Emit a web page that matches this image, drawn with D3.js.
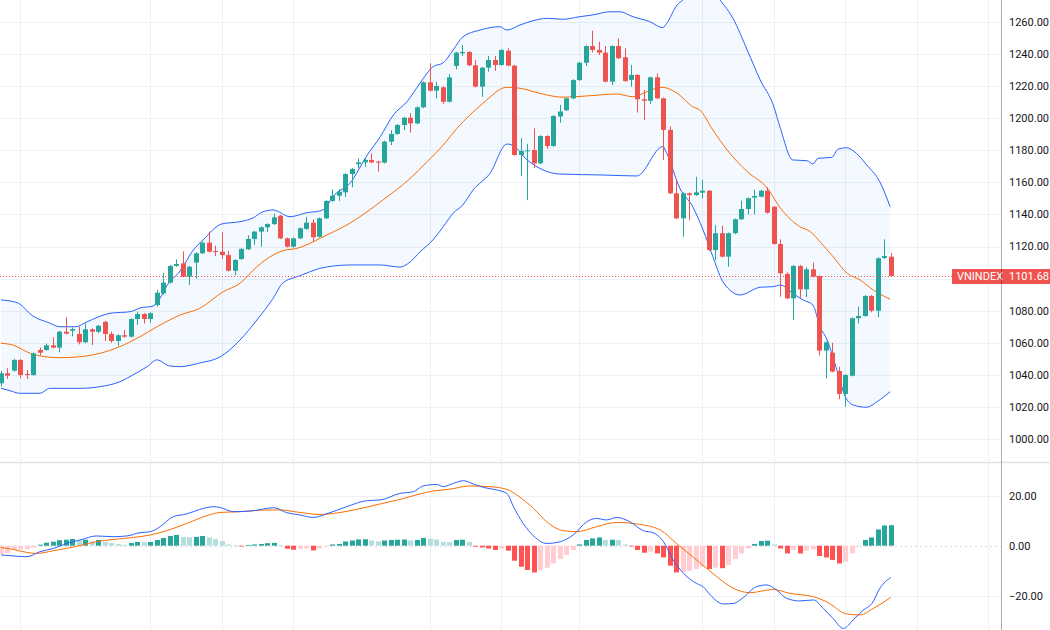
<!DOCTYPE html>
<html>
<head>
<meta charset="utf-8">
<script src="https://cdn.jsdelivr.net/npm/d3@7/dist/d3.min.js"></script>
<style>
html,body{margin:0;padding:0;background:#fff;}
svg{display:block;}
text{font-family:Roboto,"Liberation Sans",Arial,sans-serif;}
</style>
</head>
<body>
<svg id="chart" width="1050" height="630"></svg>
<script>
// ---------------- DATA ----------------
const symbol = "VNINDEX";
const lastPrice = 1101.68;
const open  = [1034.7,1041.0,1042.6,1049.3,1040.5,1039.9,1055.5,1055.5,1058.4,1057.0,
  1066.9,1067.5,1065.5,1060.3,1068.4,1066.9,1073.1,1065.5,1061.1,1064.7,
  1063.8,1074.8,1077.9,1074.8,1083.5,1090.8,1097.5,1107.9,1109.5,1101.2,
  1110.0,1115.8,1122.4,1117.2,1116.8,1114.7,1104.9,1112.2,1118.3,1124.7,
  1129.3,1132.0,1134.0,1139.2,1125.1,1119.9,1125.1,1131.0,1134.9,1126.1,
  1137.6,1148.4,1151.7,1153.8,1165.2,1171.4,1172.5,1174.0,1173.0,1172.3,
  1185.4,1190.2,1195.8,1200.3,1196.8,1206.8,1222.4,1217.2,1219.3,1210.3,
  1232.6,1240.5,1241.3,1233.0,1219.7,1231.5,1236.3,1233.2,1242.1,1232.8,
  1177.1,1179.6,1180.2,1171.9,1188.9,1182.7,1201.1,1205.0,1212.4,1223.8,
  1234.6,1245.0,1242.6,1240.9,1222.8,1245.0,1238.0,1223.9,1227.0,1211.8,
  1210.9,1225.5,1212.4,1192.7,1153.2,1137.6,1153.2,1152.1,1153.6,1154.8,
  1117.8,1128.3,1113.7,1128.3,1137.0,1143.4,1150.5,1151.1,1154.8,1144.8,
  1121.6,1102.9,1087.7,1107.9,1093.3,1105.8,1101.6,1055.1,1053.8,1042.4,
  1028.1,1039.5,1075.3,1076.7,1089.2,1080.0,1112.9,1113.7];
const high  = [1042.5,1044.1,1050.0,1049.8,1043.0,1054.0,1057.0,1059.5,1063.4,1067.5,
  1075.9,1069.5,1070.0,1072.0,1069.0,1071.2,1073.6,1067.0,1065.2,1068.0,
  1075.3,1079.4,1078.4,1079.0,1092.9,1103.5,1108.5,1112.0,1117.0,1108.0,
  1116.3,1123.0,1129.3,1120.5,1128.9,1117.4,1112.1,1119.0,1127.0,1129.8,
  1132.5,1134.5,1140.5,1139.7,1125.6,1125.6,1131.9,1138.6,1137.0,1138.1,
  1148.9,1155.6,1155.8,1165.7,1169.0,1175.0,1175.0,1178.0,1173.5,1185.9,
  1192.6,1196.3,1200.8,1203.1,1207.3,1222.9,1234.3,1222.8,1219.8,1227.6,
  1241.4,1245.7,1241.8,1236.3,1232.0,1238.8,1238.8,1243.1,1243.6,1233.3,
  1187.5,1184.0,1193.7,1189.4,1189.4,1201.9,1208.3,1212.9,1224.3,1235.1,
  1245.5,1254.6,1247.7,1245.0,1245.5,1249.8,1243.6,1233.2,1227.5,1217.6,
  1226.0,1227.9,1212.9,1195.0,1162.0,1153.7,1153.7,1163.5,1161.6,1155.3,
  1133.4,1133.0,1128.8,1137.5,1148.6,1150.6,1155.4,1155.3,1157.0,1145.3,
  1124.5,1104.0,1108.4,1108.4,1107.0,1110.0,1102.1,1060.8,1060.0,1045.0,
  1040.4,1075.8,1082.5,1089.7,1089.7,1113.2,1124.5,1116.0];
const low   = [1033.0,1037.4,1042.0,1037.8,1037.4,1039.5,1052.0,1055.0,1056.5,1054.0,
  1065.2,1064.0,1059.0,1059.8,1058.6,1066.0,1061.0,1060.0,1058.0,1063.2,
  1063.3,1071.1,1072.0,1072.5,1082.5,1090.0,1097.0,1107.4,1100.8,1096.0,
  1100.0,1115.3,1116.3,1114.0,1112.4,1104.4,1102.0,1111.7,1117.8,1121.0,
  1119.9,1129.0,1133.5,1124.6,1119.4,1119.4,1124.6,1130.5,1123.0,1125.6,
  1137.1,1147.9,1148.5,1151.0,1157.0,1168.8,1169.6,1172.0,1166.7,1171.8,
  1183.2,1189.7,1192.6,1191.0,1196.3,1206.3,1216.7,1212.4,1208.9,1209.8,
  1230.5,1238.8,1232.5,1219.2,1213.4,1229.0,1229.5,1232.7,1232.3,1176.6,
  1164.0,1149.0,1169.0,1171.4,1181.0,1182.2,1197.2,1204.5,1211.9,1223.3,
  1232.5,1241.0,1239.4,1222.3,1220.7,1236.9,1222.7,1219.7,1203.5,1198.8,
  1209.0,1211.9,1174.0,1152.7,1137.1,1126.1,1136.5,1151.6,1150.0,1117.3,
  1111.6,1113.2,1107.4,1127.8,1136.5,1140.0,1140.0,1150.6,1140.6,1121.1,
  1088.7,1087.2,1074.2,1088.0,1088.5,1100.7,1052.0,1037.8,1041.5,1024.8,
  1020.1,1039.0,1072.0,1076.2,1079.0,1075.9,1112.2,1101.2];
const close = [1041.0,1039.5,1049.3,1039.9,1039.9,1053.4,1053.8,1058.4,1057.0,1066.9,
  1065.7,1068.5,1060.3,1068.4,1066.9,1070.6,1065.5,1061.1,1064.7,1063.8,
  1074.8,1077.9,1074.8,1078.4,1091.2,1097.5,1107.9,1109.1,1101.2,1107.4,
  1115.8,1122.4,1116.8,1116.6,1114.7,1104.9,1111.6,1118.5,1124.7,1129.3,
  1132.0,1134.0,1138.2,1125.1,1119.9,1125.1,1131.4,1134.9,1125.8,1137.6,
  1148.4,1151.7,1154.2,1165.2,1168.4,1172.5,1174.0,1172.5,1172.3,1185.4,
  1190.2,1195.8,1200.3,1196.8,1206.8,1222.4,1217.2,1220.1,1210.3,1225.5,
  1240.9,1241.3,1233.0,1219.7,1231.5,1236.3,1233.2,1242.6,1232.8,1177.1,
  1179.6,1180.0,1171.9,1188.9,1182.7,1201.4,1204.2,1212.4,1223.8,1234.6,
  1245.0,1242.6,1240.9,1222.8,1245.0,1237.4,1223.2,1227.0,1211.8,1210.9,
  1225.5,1212.4,1192.7,1153.2,1137.6,1153.2,1152.1,1153.8,1154.8,1117.8,
  1128.3,1113.7,1128.3,1137.0,1143.4,1150.1,1151.5,1154.8,1141.1,1121.6,
  1103.3,1087.7,1107.9,1093.3,1105.8,1101.2,1055.1,1060.3,1042.0,1028.1,
  1039.9,1075.3,1076.7,1089.2,1080.0,1112.7,1114.1,1101.68];

// Bollinger Bands (read at sampled bar positions)
const bbUpperIdx = [0,2.5,4.9,7.5,9,11.5,13.2,16.8,19.9,21.4,23.4,24.5,25.6,27.6,29.6,31.1,34,36.8,38.8,40.3,41.9,44.5,47.1,49.1,49.9,51.1,53.7,56.4,58.4,60.4,62.5,64.5,66.5,68.1,69.6,71.1,73.8,76.8,77.9,79.9,81.9,84.1,86.5,89.1,91.1,93.8,95.3,97.3,99.9,101.9,102.5,104.1,105,106.4,107.9,109.5,110.7,112.7,114.9,116.9,118.9,120,121.9,124.1,125,125.8,127.9,128.9,130.2,131.7,133.3,135.3,136.9];
const bbUpper    = [1086.7,1085.0,1076.7,1072.3,1070.0,1070.0,1073.0,1078.4,1079.4,1081.7,1082.9,1087.9,1096.0,1104.8,1117.8,1124.1,1134.1,1135.5,1137.8,1141.7,1142.8,1138.6,1141.1,1142.2,1143.8,1151.1,1159.4,1177.1,1188.5,1202.0,1210.3,1221.8,1232.1,1234.6,1242.5,1250.7,1255.0,1257.1,1255.0,1258.1,1260.8,1262.3,1261.7,1263.3,1264.4,1266.4,1266.4,1263.3,1260.2,1256.5,1259.2,1270.6,1273.7,1279.3,1281.8,1279.3,1273.7,1262.3,1242.5,1223.8,1208.3,1193.7,1174.0,1173.5,1171.5,1175.0,1175.6,1180.8,1181.6,1178.1,1170.8,1160.4,1144.8];
const bbBasisIdx = [0,1.8,4.5,6,9.1,12.2,15.2,18.3,21.4,24.5,27.6,30.6,34.2,36.8,39.4,41.9,43.4,45.6,47.6,49.1,53.7,58.8,63,65.6,68.1,70.2,72.2,74.2,77.9,79.9,83,86.5,90.2,94.8,97.3,99.5,101.8,104.1,106.5,107.6,109.6,111.8,114.9,118,120,123,124.6,126.1,128.1,130.3,132.3,134.3,136.9];
const bbBasis    = [1059.7,1058.6,1053.4,1051.8,1050.7,1051.3,1053.4,1057.6,1063.8,1071.1,1077.3,1081.5,1091.8,1097.1,1107.4,1114.7,1117.4,1118.9,1122.0,1125.1,1134.5,1149.0,1162.5,1172.9,1183.3,1193.7,1202.0,1209.3,1219.3,1218.7,1215.5,1213.1,1213.9,1215.1,1213.4,1216.6,1219.3,1215.6,1207.2,1205.1,1192.7,1180.2,1166.7,1156.3,1144.0,1132.4,1129.3,1123.0,1113.7,1103.3,1099.1,1092.9,1087.1];
const bbLowerIdx = [0,1.4,2.9,6,7.5,12.2,15.2,18.3,20.3,22.5,24,26,27.6,30.6,33.7,36.8,39.4,41.9,43.4,45.6,47.6,49.1,53.7,58.4,61.4,63,64.5,66.5,68.1,69.6,71.1,72.7,75.3,77.9,78.7,81,84.1,86.1,92.7,97.9,101.9,102.5,104.5,106.5,108.1,109.6,111,112.2,113.8,116.9,118.9,120,121.9,123.5,125,126.1,127.2,128.7,130,131.2,133.3,134.9,136.9];
const bbLower    = [1031.6,1030.1,1028.5,1028.5,1031.6,1031.6,1032.6,1035.7,1039.9,1045.1,1049.3,1045.5,1045.1,1047.4,1051.1,1061.7,1074.2,1087.7,1097.3,1101.2,1104.3,1106.4,1108.5,1108.5,1107.2,1110.4,1116.6,1124.1,1132.4,1140.7,1145.9,1155.3,1165.7,1183.9,1183.3,1174.0,1166.7,1165.2,1164.6,1164.0,1182.3,1178.1,1156.5,1144.8,1130.3,1113.7,1099.1,1092.9,1089.8,1094.6,1095.0,1096.0,1090.8,1086.7,1083.5,1070.0,1061.7,1043.0,1026.4,1021.2,1019.8,1023.3,1029.5];

// MACD
const macdHist = [-3.3,-3.0,-1.6,-1.5,-1.4,-0.7,0.4,1.2,1.6,2.2,
  2.4,2.7,2.2,2.4,1.7,2.3,1.6,1.1,0.7,0.4,
  1.1,1.5,1.4,1.5,2.3,3.1,3.9,4.3,3.5,3.4,
  3.5,3.9,3.3,2.7,1.9,0.5,0.1,-0.2,0.3,0.5,
  0.7,1.0,1.1,0.1,-1.2,-1.6,-1.2,-1.1,-1.9,-1.2,
  -0.4,0.5,0.7,1.7,2.1,2.5,2.6,2.1,1.7,2.1,
  2.3,2.4,2.5,2.1,2.3,3.1,2.8,2.5,1.5,1.4,
  2.3,2.4,1.5,-0.4,-0.7,-1.1,-1.7,-1.2,-2.0,-6.0,
  -8.4,-9.7,-10.7,-9.7,-8.8,-7.1,-5.3,-3.7,-1.7,0.5,
  2.3,2.9,3.3,2.3,2.4,2.3,0.5,-0.1,-1.7,-2.8,
  -2.4,-3.1,-4.7,-8.0,-10.7,-10.6,-10.1,-9.3,-8.4,-9.3,
  -8.8,-9.0,-7.7,-5.3,-3.1,-1.1,0.7,1.9,2.0,0.5,
  -1.1,-3.1,-1.7,-3.1,-2.0,-1.5,-4.1,-4.7,-5.7,-7.1,
  -6.4,-3.1,-0.4,2.3,3.3,6.5,8.1,8.2];
const macdIdx = [0,1.9,4,6,8.1,10.1,12.2,14.7,17.3,19.4,21.4,23,24.5,26.5,28.6,30.6,32.7,33.7,35.8,38.9,42,44,46,48.1,50.1,53.2,56.3,58.4,61.4,63.5,65,67.1,68.1,69.1,71.2,72.7,74.3,76.3,77.9,78.9,80.4,82,84,86.1,88.1,90.2,91.7,93.2,94.8,96.8,98.9,100.4,102,103.5,105.1,107.1,108.1,109.2,111.2,112.8,114.3,116.3,117.9,119.4,121,123,125.1,126.6,128.1,129.7,131.2,132.8,134.1,135.3,137];
const macdLine = [-3.7,-4.1,-4.4,-2.4,-1.1,0.9,2.3,3.9,3.6,3.9,5.2,5.6,7.6,11.6,12.7,14.5,15.6,15.3,13.6,14.0,15.2,13.2,12.3,11.3,12.7,15.6,18.0,18.3,20.9,21.6,23.9,24.5,23.6,24.4,26.0,24.7,23.3,22.3,20.9,15.6,8.9,3.9,0.9,1.6,4.3,9.6,10.9,10.3,11.3,9.6,6.0,5.2,1.6,-5.7,-11.1,-15.1,-16.4,-19.7,-23.3,-23.1,-20.7,-16.4,-15.7,-17.7,-21.1,-22.1,-21.7,-25.1,-29.1,-33.1,-29.7,-25.7,-23.1,-17.1,-12.7];
const signalIdx = [0,1.9,4,5.5,8.1,10.1,12.2,14.7,17.3,20.4,23,25.5,28.6,31.7,33.7,36.8,40.9,43,46,49.1,51.2,54.3,58.4,61.4,64.5,66.6,69.1,72.2,75.3,77.9,79.4,82,84,86.6,88.6,91.7,94.8,97.9,101.5,104,107.1,110.2,112.8,115.3,118.9,121.5,125.1,127.1,130.2,132.3,134.3,137];
const signalLine = [-0.7,-1.5,-2.7,-3.1,-2.0,-1.1,0.1,1.6,2.5,3.3,4.3,6.0,8.9,12.0,13.3,13.6,14.3,14.3,13.3,12.5,12.9,14.3,16.7,18.5,20.7,21.9,22.6,23.9,23.6,22.5,20.3,14.9,9.6,6.0,5.6,7.6,9.3,8.7,6.3,0.9,-5.7,-12.4,-17.1,-18.8,-17.5,-19.1,-20.4,-22.4,-27.3,-27.7,-25.1,-20.7];

// axes / grid
const priceTicks = [1000,1020,1040,1060,1080,1100,1120,1140,1160,1180,1200,1220,1240,1260];
const macdTicks = [20,0,-20];
const timeGridIdx = [3,23,34,45,66,77,89,108,119,130,141,152];

// ---------------- LAYOUT ----------------
const W = 1050, H = 630;
const axisX = 1001;
const mainTop = 0, mainBottom = 461;
const subTop = 463, subBottom = 630;
const UP = "#26a69a", DOWN = "#ef5350";

const svg = d3.select("#chart");
const x = d3.scaleLinear().domain([0, open.length - 1]).range([1.0, 890.8]);
const y = d3.scaleLinear().domain([1000, 1260]).range([439, 22]);
const ym = d3.scaleLinear().domain([-20, 20]).range([595.7, 495.7]);

svg.append("defs").append("clipPath").attr("id","clipMain")
  .append("rect").attr("x",0).attr("y",mainTop).attr("width",axisX).attr("height",mainBottom-mainTop);
svg.select("defs").append("clipPath").attr("id","clipSub")
  .append("rect").attr("x",0).attr("y",subTop).attr("width",axisX).attr("height",subBottom-subTop);

const grid = svg.append("g");
const GRID = "#edf0f5";
timeGridIdx.forEach(i => {
  const gx = Math.round(x(i)) + 0.5;
  if (gx < axisX) {
    grid.append("line").attr("x1",gx).attr("x2",gx).attr("y1",mainTop).attr("y2",mainBottom)
      .attr("stroke",GRID).attr("stroke-width",1);
    grid.append("line").attr("x1",gx).attr("x2",gx).attr("y1",subTop).attr("y2",subBottom)
      .attr("stroke",GRID).attr("stroke-width",1);
  }
});
priceTicks.forEach(p => {
  const gy = Math.round(y(p)) + 0.5;
  grid.append("line").attr("x1",0).attr("x2",axisX).attr("y1",gy).attr("y2",gy)
    .attr("stroke",GRID).attr("stroke-width",1);
});
macdTicks.forEach(v => {
  const gy = Math.round(ym(v)) + 0.5;
  const l = grid.append("line").attr("x1",0).attr("x2",axisX).attr("y1",gy).attr("y2",gy)
    .attr("stroke",GRID).attr("stroke-width",1);
  if (v === 0) l.attr("stroke","#c9ccd4").attr("stroke-dasharray","2,3").attr("stroke-opacity",0.7);
});

// ---------------- MAIN PANE ----------------
const main = svg.append("g").attr("clip-path","url(#clipMain)");
const pts = (idx, vals) => idx.map((d,k) => [x(d), y(vals[k])]);
const lineGen = d3.line().curve(d3.curveMonotoneX);

const upPts = pts(bbUpperIdx, bbUpper);
const loPts = pts(bbLowerIdx, bbLower).reverse();
const areaPath = lineGen(upPts) + "L" + lineGen(loPts).slice(1) + "Z";
main.append("path").attr("d", areaPath).attr("fill","rgba(33,150,243,0.055)").attr("stroke","none");

main.append("path").attr("d", lineGen(pts(bbBasisIdx, bbBasis))).attr("fill","none")
  .attr("stroke","#ff6d00").attr("stroke-width",1);
main.append("path").attr("d", lineGen(upPts)).attr("fill","none").attr("stroke","#2962ff").attr("stroke-width",1);
main.append("path").attr("d", lineGen(pts(bbLowerIdx, bbLower))).attr("fill","none").attr("stroke","#2962ff").attr("stroke-width",1);

const candles = main.append("g");
open.forEach((o, i) => {
  const c = close[i];
  const col = c >= o ? UP : DOWN;
  const cx = Math.round(x(i));
  candles.append("line").attr("x1",cx+0.5).attr("x2",cx+0.5)
    .attr("y1",y(high[i])).attr("y2",y(low[i])).attr("stroke",col).attr("stroke-width",1);
  const yt = y(Math.max(o,c)), yb = y(Math.min(o,c));
  candles.append("rect").attr("x",cx-2).attr("width",5)
    .attr("y",yt).attr("height",Math.max(1, yb-yt)).attr("fill",col);
});

const ly = Math.round(y(lastPrice)) + 0.5;
main.append("line").attr("x1",0).attr("x2",952).attr("y1",ly).attr("y2",ly)
  .attr("stroke",DOWN).attr("stroke-width",1).attr("stroke-dasharray","1,2");

// ---------------- MACD PANE ----------------
const sub = svg.append("g").attr("clip-path","url(#clipSub)");
macdHist.forEach((v, i) => {
  const prev = i > 0 ? macdHist[i-1] : v - 0.1;
  let col;
  if (v >= 0) col = v >= prev ? "#26a69a" : "#b2dfdb";
  else col = v < prev ? "#ff5252" : "#ffcdd2";
  const cx = Math.round(x(i));
  const y1 = ym(Math.max(0,v)), y2 = ym(Math.min(0,v));
  sub.append("rect").attr("x",cx-2).attr("width",5).attr("y",y1).attr("height",Math.max(0.8,y2-y1)).attr("fill",col);
});
const mPts = (idx, vals) => idx.map((d,k) => [x(d), ym(vals[k])]);
sub.append("path").attr("d", lineGen(mPts(signalIdx, signalLine))).attr("fill","none")
  .attr("stroke","#ff6d00").attr("stroke-width",1);
sub.append("path").attr("d", lineGen(mPts(macdIdx, macdLine))).attr("fill","none")
  .attr("stroke","#2962ff").attr("stroke-width",1);

svg.append("line").attr("x1",0).attr("x2",W).attr("y1",462.5).attr("y2",462.5)
  .attr("stroke","#dfe2ea").attr("stroke-width",1.5);

// ---------------- AXES ----------------
const ax = svg.append("g");
const labelTop = Math.round(y(lastPrice)) - 7, labelBottom = labelTop + 15;
priceTicks.forEach(p => {
  const ty = y(p);
  // tick labels hidden behind the last-price label are not shown
  if (ty + 6 > labelTop && ty - 6 < labelBottom) return;
  ax.append("text").attr("x",1009).attr("y",ty).attr("dy","0.35em")
    .attr("font-size",11).attr("fill","#131722").text(d3.format(".2f")(p));
});
macdTicks.forEach(v => {
  ax.append("text").attr("x",1009).attr("y",ym(v)).attr("dy","0.35em")
    .attr("font-size",11).attr("fill","#131722").text(d3.format(".2f")(v).replace("-","\u2212"));
});

const lab = svg.append("g");
lab.append("rect").attr("x",952).attr("y",labelTop).attr("width",98).attr("height",15).attr("fill",DOWN);
lab.append("text").attr("x",957).attr("y",y(lastPrice)+0.5).attr("dy","0.35em").attr("font-size",11)
  .attr("fill","#fff").text(symbol);
lab.append("text").attr("x",1009).attr("y",y(lastPrice)+0.5).attr("dy","0.35em").attr("font-size",11)
  .attr("fill","#fff").text(d3.format(".2f")(lastPrice));

svg.append("line").attr("x1",axisX+0.5).attr("x2",axisX+0.5).attr("y1",0).attr("y2",H)
  .attr("stroke","rgba(19,23,34,0.35)").attr("stroke-width",1);
</script>
</body>
</html>
